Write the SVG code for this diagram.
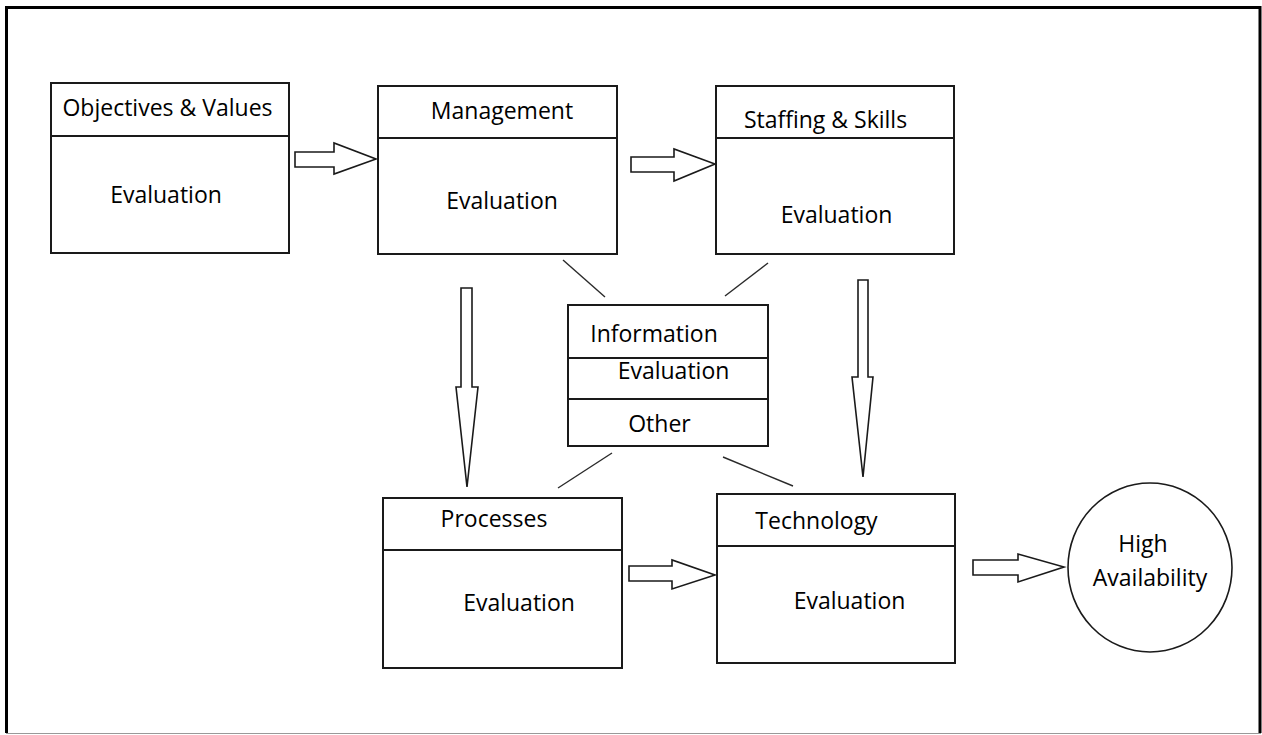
<svg xmlns="http://www.w3.org/2000/svg" width="1262" height="735" viewBox="0 0 1262 735">
  <style>
    .box { fill: #fff; stroke: #1a1a1a; stroke-width: 2; }
    .div { stroke: #1a1a1a; stroke-width: 2; }
    .lbl { font-family: "Open Sans", "Liberation Sans", sans-serif; font-size: 23px; fill: #000; text-anchor: middle; }
    .arrow { fill: #fff; stroke: #1a1a1a; stroke-width: 1.6; stroke-linejoin: miter; }
    .link { stroke: #2a2a2a; stroke-width: 1.4; }
  </style>
  <rect width="1262" height="735" fill="#fff"/>
  <!-- frame -->
  <polyline points="6.5,733 6.5,7.5 1260,7.5 1260,733" fill="none" stroke="#000" stroke-width="3"/>
  <line x1="6" y1="733.5" x2="1261" y2="733.5" stroke="#999" stroke-width="1"/>

  <g id="objectives">
    <rect class="box" x="51" y="83" width="238" height="170"/>
    <line class="div" x1="51" y1="136" x2="289" y2="136"/>
    <text class="lbl" x="167.5" y="116">Objectives &amp; Values</text>
    <text class="lbl" x="166" y="203">Evaluation</text>
  </g>

  <g id="management">
    <rect class="box" x="378" y="86" width="239" height="168"/>
    <line class="div" x1="378" y1="138" x2="617" y2="138"/>
    <text class="lbl" x="502" y="119">Management</text>
    <text class="lbl" x="502" y="209">Evaluation</text>
  </g>

  <g id="staffing">
    <rect class="box" x="716" y="86" width="238" height="168"/>
    <line class="div" x1="716" y1="138" x2="954" y2="138"/>
    <text class="lbl" x="825.5" y="128">Staffing &amp; Skills</text>
    <text class="lbl" x="836.5" y="223">Evaluation</text>
  </g>

  <g id="information">
    <rect class="box" x="568" y="305" width="200" height="141"/>
    <line class="div" x1="568" y1="358" x2="768" y2="358"/>
    <line class="div" x1="568" y1="399" x2="768" y2="399"/>
    <text class="lbl" x="654" y="342">Information</text>
    <text class="lbl" x="673.5" y="379">Evaluation</text>
    <text class="lbl" x="659.5" y="432">Other</text>
  </g>

  <g id="processes">
    <rect class="box" x="383" y="498" width="239" height="170"/>
    <line class="div" x1="383" y1="550" x2="622" y2="550"/>
    <text class="lbl" x="494" y="527">Processes</text>
    <text class="lbl" x="519" y="611">Evaluation</text>
  </g>

  <g id="technology">
    <rect class="box" x="717" y="494" width="238" height="169"/>
    <line class="div" x1="717" y1="546" x2="955" y2="546"/>
    <text class="lbl" x="816.5" y="529">Technology</text>
    <text class="lbl" x="849.5" y="609">Evaluation</text>
  </g>

  <g id="high-availability">
    <ellipse cx="1150" cy="567.5" rx="82" ry="84.5" fill="#fff" stroke="#1a1a1a" stroke-width="1.6"/>
    <text class="lbl" x="1143" y="552">High</text>
    <text class="lbl" x="1150" y="586">Availability</text>
  </g>

  <g id="connectors">
    <!-- block arrows -->
    <polygon class="arrow" points="295,152 334,152 334,143 376,159 334,174 334,167 295,167"/>
    <polygon class="arrow" points="631,157 674,157 674,149 715,164 674,181 674,172 631,172"/>
    <polygon class="arrow" points="629,566 672,566 672,560 715,575 672,589 672,581 629,581"/>
    <polygon class="arrow" points="973,560 1018,560 1018,554 1064,567 1018,582 1018,575 973,575"/>
    <polygon class="arrow" points="461,288 472,288 472,387 478,387 467,487 456,387 461,387"/>
    <polygon class="arrow" points="858,280 868,280 868,377 873,377 863,477 852,377 858,377"/>
    <!-- links to Information -->
    <line class="link" x1="563" y1="260" x2="605" y2="297"/>
    <line class="link" x1="768" y1="263" x2="725" y2="296"/>
    <line class="link" x1="612" y1="453" x2="558" y2="488"/>
    <line class="link" x1="723" y1="457" x2="793" y2="486"/>
  </g>
</svg>
